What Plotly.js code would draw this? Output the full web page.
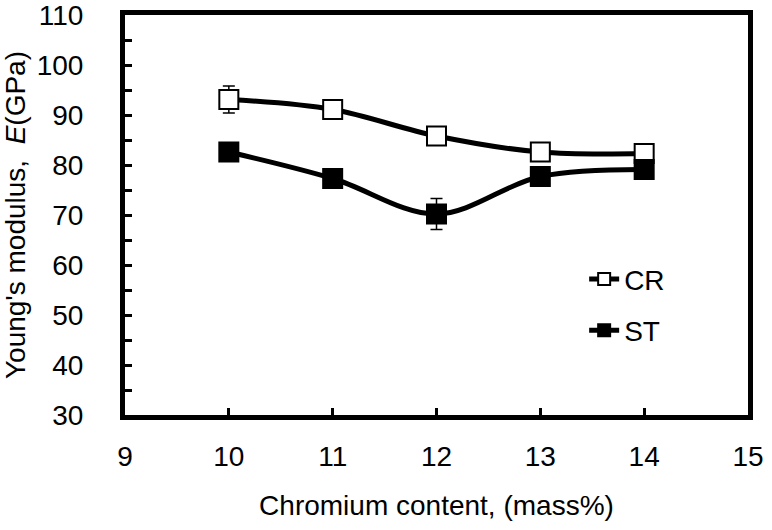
<!DOCTYPE html>
<html>
<head>
<meta charset="utf-8">
<script src="https://cdn.plot.ly/plotly-3.0.1.min.js"></script>
<style>html,body{margin:0;padding:0;background:#fff;}#chart{width:772px;height:530px;}</style>
</head>
<body>
<div id="chart"></div>
<script>
const chromium = [10, 11, 12, 13, 14];
const crValues = [93.1, 91.1, 85.8, 82.6, 82.3];
const crErrors = [2.7, 0, 0, 0, 0];
const stValues = [82.6, 77.3, 70.2, 77.7, 79.1];
const stErrors = [0, 0, 3.1, 0, 0];
const xTicks = [9, 10, 11, 12, 13, 14, 15];
const yLabelTicks = [30, 40, 50, 60, 70, 80, 90, 100, 110];
const yMarkTicks = [35, 40, 45, 50, 55, 60, 65, 70, 75, 80, 85, 90, 95, 100, 105];

const font = {family: '"Liberation Sans", Arial, sans-serif', color: '#000'};
const f = s => Object.assign({size: s}, font);

const traces = [
  {
    x: chromium, y: crValues, name: 'CR', type: 'scatter', mode: 'lines+markers',
    legendgroup: 'cr',
    line: {color: '#000', width: 5, shape: 'spline', smoothing: 1},
    marker: {symbol: 'square', size: 19, color: '#fff', line: {color: '#000', width: 2}},
    error_y: {type: 'data', array: crErrors, visible: true, color: '#000', thickness: 1.5, width: 6}
  },
  {
    x: chromium, y: stValues, name: 'ST', type: 'scatter', mode: 'lines+markers',
    legendgroup: 'st',
    line: {color: '#000', width: 5, shape: 'spline', smoothing: 1},
    marker: {symbol: 'square', size: 19, color: '#000', line: {color: '#000', width: 2}},
    error_y: {type: 'data', array: stErrors, visible: true, color: '#000', thickness: 1.5, width: 6}
  },
  {
    // invisible carrier so the tick-only overlay axis is drawn
    x: chromium, y: crValues, yaxis: 'y2', type: 'scatter', mode: 'markers',
    showlegend: false, hoverinfo: 'skip', opacity: 0, marker: {size: 1}
  }
];

const layout = {
  width: 772, height: 530,
  margin: {l: 125, r: 24, t: 15, b: 115},
  paper_bgcolor: '#fff', plot_bgcolor: '#fff',
  font: f(28),
  showlegend: true,
  legend: {
    x: 0.737, y: 0.402, xanchor: 'left', yanchor: 'top',
    bgcolor: 'rgba(0,0,0,0)', font: f(28),
    itemsizing: 'constant', traceorder: 'grouped', tracegroupgap: 12
  },
  xaxis: {
    range: [9, 15], tickvals: xTicks, ticktext: xTicks.map(String),
    ticks: 'inside', ticklen: 7, tickwidth: 3, tickcolor: '#000',
    ticklabelstandoff: 12,
    showline: true, linewidth: 5, linecolor: '#000', mirror: true,
    showgrid: false, zeroline: false,
    tickfont: f(28),
    title: {text: 'Chromium content, (mass%)', font: f(28), standoff: 26}
  },
  yaxis: {
    range: [30, 110], tickvals: yLabelTicks, ticktext: yLabelTicks.map(String),
    ticks: '', ticklabelstandoff: 31, ticklabeloverflow: 'allow',
    showline: true, linewidth: 5, linecolor: '#000', mirror: true,
    showgrid: false, zeroline: false,
    tickfont: f(28),
    title: {text: "Young's modulus,  <i>E</i>(GPa)", font: f(28), standoff: 16}
  },
  yaxis2: {
    overlaying: 'y', side: 'left', anchor: 'x',
    range: [30, 110], tickvals: yMarkTicks, showticklabels: false,
    ticks: 'inside', ticklen: 7, tickwidth: 3, tickcolor: '#000',
    showline: false, showgrid: false, zeroline: false
  }
};

Plotly.newPlot('chart', traces, layout, {displayModeBar: false, staticPlot: true});
</script>
</body>
</html>
